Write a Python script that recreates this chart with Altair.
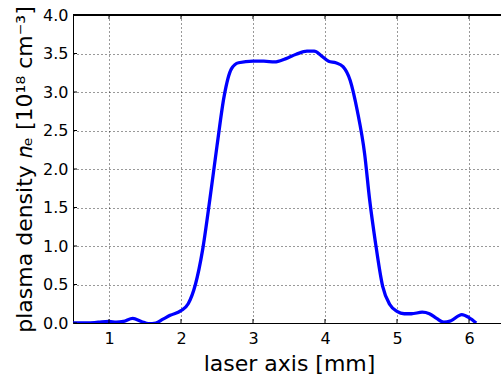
import altair as alt
import pandas as pd

# Curve data (laser axis position in mm, plasma density in 1e18 cm^-3)
x_mm = [0.5, 0.7, 0.85, 1.0, 1.1, 1.2, 1.33, 1.45, 1.55, 1.65, 1.75, 1.85, 2.0, 2.1, 2.2,
        2.3, 2.4, 2.5, 2.6, 2.7, 2.8, 3.0, 3.15, 3.3, 3.45, 3.6, 3.75, 3.85, 3.95, 4.05,
        4.15, 4.25, 4.35, 4.45, 4.55, 4.62, 4.7, 4.8, 4.9, 5.0, 5.1, 5.2, 5.35, 5.45,
        5.55, 5.65, 5.75, 5.9, 6.0, 6.1]
density = [0.0, 0.0, 0.01, 0.02, 0.01, 0.02, 0.06, 0.02, -0.01, 0.0, 0.05, 0.10, 0.16, 0.25, 0.50,
           0.95, 1.6, 2.3, 2.95, 3.3, 3.38, 3.40, 3.40, 3.39, 3.43, 3.49, 3.53, 3.53, 3.47, 3.40,
           3.38, 3.33, 3.15, 2.75, 2.2, 1.6, 1.05, 0.48, 0.24, 0.15, 0.12, 0.12, 0.14, 0.12,
           0.06, 0.01, 0.03, 0.11, 0.07, 0.0]

x_ticks = [1, 2, 3, 4, 5, 6]
y_ticks = [0.0, 0.5, 1.0, 1.5, 2.0, 2.5, 3.0, 3.5, 4.0]

W, H = 428, 308
x_dom = [0.5, 0.5 + W / 72.0]
y_dom = [0.0, 4.0]

df = pd.DataFrame({"x": x_mm, "y": density})
xt = pd.DataFrame({"x": x_ticks})
yt = pd.DataFrame({"y": y_ticks})

xscale = alt.Scale(domain=x_dom, nice=False, zero=False)
yscale = alt.Scale(domain=y_dom, nice=False, zero=False)

font = "DejaVu Sans"

x_axis = alt.Axis(values=x_ticks, format="d", title="laser axis [mm]", labelOverlap=False,
                  titleX=216, titleY=47, titleBaseline="alphabetic", titleAlign="center")
y_axis = alt.Axis(values=y_ticks, format=".1f", title="plasma density 𝑛ₑ [10¹⁸ cm⁻³]",
                  labelOverlap=False, tickCount=9,
                  titleX=-49, titleY=154, titleAngle=-90, titleAlign="center",
                  titleBaseline="middle")

line = alt.Chart(df).mark_line(color="#0000ff", strokeWidth=3.3, interpolate="monotone", clip=True).encode(
    x=alt.X("x:Q", scale=xscale, axis=x_axis),
    y=alt.Y("y:Q", scale=yscale, axis=y_axis),
)

top_border = alt.Chart(df).mark_rule(color="black", strokeWidth=1).encode(
    x=alt.value(0), x2=alt.value(W), y=alt.value(0))

xt_bottom = alt.Chart(xt).mark_rule(color="black", strokeWidth=1).encode(
    x=alt.X("x:Q", scale=xscale, axis=x_axis), y=alt.value(H), y2=alt.value(H - 4))
xt_top = alt.Chart(xt).mark_rule(color="black", strokeWidth=1).encode(
    x=alt.X("x:Q", scale=xscale, axis=x_axis), y=alt.value(0), y2=alt.value(4))
yt_left = alt.Chart(yt).mark_rule(color="black", strokeWidth=1).encode(
    y=alt.Y("y:Q", scale=yscale, axis=y_axis), x=alt.value(0), x2=alt.value(4))

chart = alt.layer(line, top_border, xt_bottom, xt_top, yt_left).properties(
    width=W, height=H,
    autosize=alt.AutoSizeParams(type="none"),
    padding={"left": 73, "top": 15, "right": 0, "bottom": 53},
).configure_view(stroke=None).configure_axis(
    labelFont=font, labelFontSize=16, labelColor="black",
    titleFont=font, titleFontSize=22, titleColor="black", titleFontWeight="normal",
    domainColor="black", domainWidth=1, ticks=False, labelPadding=7,
    grid=True, gridColor="black", gridDash=[1, 3], gridWidth=1, gridOpacity=0.8,
).configure_axisY(labelPadding=5)

chart.save("out.html", embed_options={"renderer": "svg", "actions": False})
